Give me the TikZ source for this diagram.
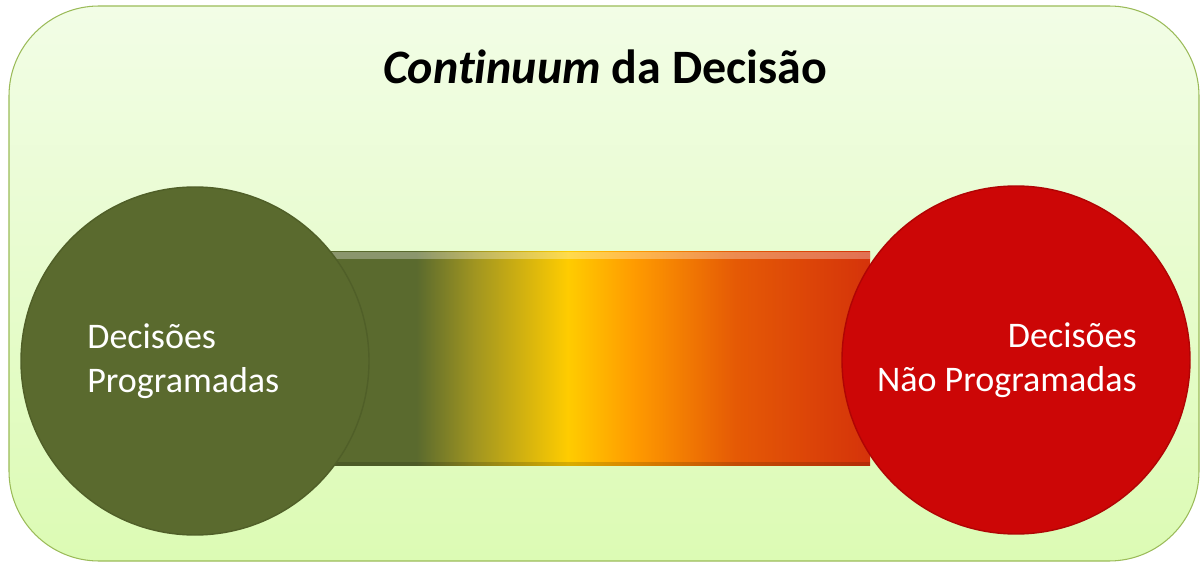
\documentclass[tikz,border=0pt]{standalone}
\usepackage{fontspec}
\setmainfont{Carlito}[Ligatures=NoCommon]
\usetikzlibrary{calc}
\usetikzlibrary{positioning}

\definecolor{bgtop}{HTML}{F2FDE6}
\definecolor{bgbot}{HTML}{DCFBB4}
\definecolor{bgline}{HTML}{9BBB59}
\definecolor{progreen}{HTML}{5A6A2E}
\definecolor{progreenedge}{HTML}{505F28}
\definecolor{naored}{HTML}{CC0606}
\definecolor{naorededge}{HTML}{B00404}
\definecolor{contolive}{HTML}{A29620}
\definecolor{contyellow}{HTML}{FFCC00}
\definecolor{contorange}{HTML}{FF9C00}
\definecolor{contdark}{HTML}{E55A05}
\definecolor{contred}{HTML}{D5330A}

% only the middle half (25bp..75bp) lands on the bar
\pgfdeclarehorizontalshading{continuum}{100bp}{%
  color(0bp)=(progreen); color(33bp)=(progreen); color(38.5bp)=(contolive);
  color(47bp)=(contyellow); color(53bp)=(contorange);
  color(62.5bp)=(contdark); color(75bp)=(contred); color(100bp)=(contred)}

\tikzset{
  decisao/.style={shape=circle, draw=#1edge, line width=0.8pt, fill=#1,
    minimum size=6.96cm, inner sep=0},
  rotulo/.style={text=white, inner sep=0, font=\fontsize{20.5}{25}\selectfont}
}

\begin{document}
\begin{tikzpicture}
  \useasboundingbox (0,0) rectangle (24.06,11.28);
  \draw [draw=bgline, line width=0.6pt, rounded corners=1.8cm, top color=bgtop, bottom color=bgbot]
    (0.18,0.06) rectangle (23.98,11.16);
  \path (12.1,9.6) node (titulo) [anchor=base, font=\fontsize{27.3}{32}\selectfont\bfseries] {\textit{Continuum} da Decisão};
  % barra do continuum
  \shade [shading=continuum] (6.6,1.96) rectangle (17.4,6.24);
  \fill [white, opacity=0.3] (6.6,6.1) rectangle (17.4,6.24);
  \fill [black, opacity=0.15] (6.6,1.96) rectangle (17.4,2.04);
  \path (3.9,4.06) node (prog) [decisao=progreen] {};
  \path (20.32,4.08) node (naoprog) [decisao=naored] {};
  \node (progtxt) [rotulo, anchor=west, align=left] at ([xshift=-2.16cm]prog.center) {Decisões\\Programadas};
  \node (naotxt) [rotulo, anchor=east, align=right] at ([xshift=2.42cm]naoprog.center) {Decisões\\Não Programadas};
\end{tikzpicture}
\end{document}
